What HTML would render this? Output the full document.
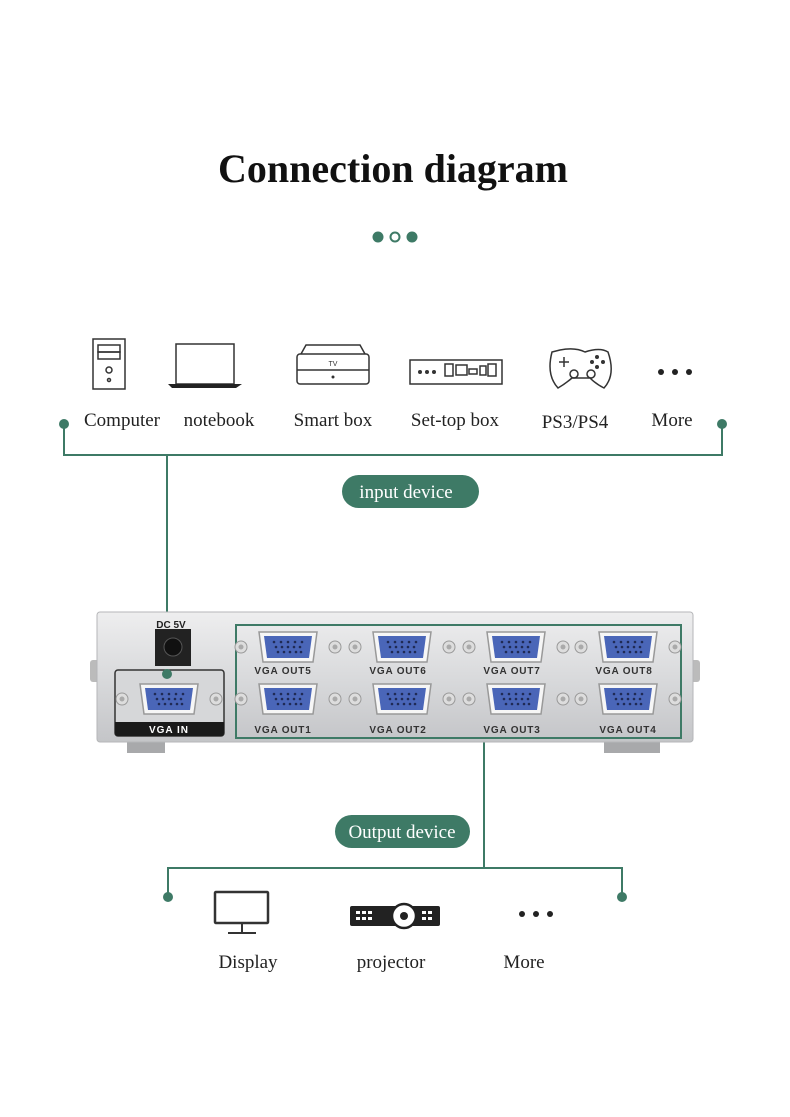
<!DOCTYPE html>
<html><head><style>
html,body{margin:0;padding:0;background:#fff;}
svg{display:block}
.t{font-family:"Liberation Serif",serif;}
.s{font-family:"Liberation Sans",sans-serif;font-weight:bold;}
</style></head><body>
<svg width="790" height="1117" viewBox="0 0 790 1117" xmlns="http://www.w3.org/2000/svg">
<defs>
<linearGradient id="body" x1="0" y1="0" x2="0" y2="1">
<stop offset="0" stop-color="#eeeeef"/><stop offset="0.5" stop-color="#d9dadc"/><stop offset="1" stop-color="#c4c5c8"/>
</linearGradient>
<g id="port">
<circle cx="-47" cy="0" r="6" fill="#ddd" stroke="#999"/><circle cx="-47" cy="0" r="2.5" fill="#aaa"/>
<circle cx="47" cy="0" r="6" fill="#ddd" stroke="#999"/><circle cx="47" cy="0" r="2.5" fill="#aaa"/>
<path d="M-29,-15 H29 L25,15 H-25 Z" fill="#f6f6f6" stroke="#999" stroke-width="1.5"/>
<path d="M-24,-11 H24 L21,11 H-21 Z" fill="#4a66b8"/>
<g fill="#1f2a55"><circle cx="-14" cy="-5" r="1.3"/><circle cx="-7" cy="-5" r="1.3"/><circle cx="0" cy="-5" r="1.3"/><circle cx="7" cy="-5" r="1.3"/><circle cx="14" cy="-5" r="1.3"/>
<circle cx="-12" cy="0" r="1.3"/><circle cx="-6" cy="0" r="1.3"/><circle cx="0" cy="0" r="1.3"/><circle cx="6" cy="0" r="1.3"/><circle cx="12" cy="0" r="1.3"/>
<circle cx="-10" cy="5" r="1.3"/><circle cx="-4" cy="5" r="1.3"/><circle cx="2" cy="5" r="1.3"/><circle cx="8" cy="5" r="1.3"/><circle cx="13" cy="5" r="1.3"/></g>
</g>
</defs>
<text x="393" y="182" text-anchor="middle" class="t" font-size="40" font-weight="bold" fill="#111">Connection diagram</text>
<circle cx="378" cy="237" r="5.5" fill="#3e7a66"/><circle cx="395" cy="237" r="4.5" fill="none" stroke="#3e7a66" stroke-width="2"/><circle cx="412" cy="237" r="5.5" fill="#3e7a66"/>

<g fill="none" stroke="#333" stroke-width="1.5">
<rect x="93" y="339" width="32" height="50"/><rect x="98" y="345" width="22" height="7"/><rect x="98" y="352" width="22" height="7"/><circle cx="109" cy="370" r="3"/><circle cx="109" cy="380" r="1.5"/>
<rect x="176" y="344" width="58" height="40"/>
<rect x="297" y="354" width="72" height="30" rx="3"/><path d="M297,370 H369 M301,354 L306,345 H360 L365,354"/>
<rect x="410" y="360" width="92" height="24"/>
<rect x="445" y="364" width="8" height="12"/><rect x="456" y="365" width="11" height="10"/><rect x="469" y="369" width="8" height="5"/><rect x="480" y="366" width="6" height="9"/><rect x="488" y="364" width="8" height="12"/>
<path d="M560,350 Q575,347 585,352 Q600,347 608,352 Q616,375 604,388 Q596,384 590,378 H572 Q565,384 558,388 Q546,375 552,352 Z"/>
<circle cx="574" cy="374" r="4"/><circle cx="591" cy="374" r="4"/>
<rect x="215" y="892" width="53" height="31" rx="1" stroke-width="2.5"/><path d="M228,933 H256 M242,923 V933" stroke-width="2"/>
</g>
<path d="M168,384 H242 L236,388 H172 Z" fill="#222"/>
<circle cx="333" cy="377" r="1.5" fill="#333"/><text x="333" y="366" text-anchor="middle" font-size="7" font-family="Liberation Sans" fill="#333">TV</text>
<circle cx="420" cy="372" r="2" fill="#333"/><circle cx="427" cy="372" r="2" fill="#333"/><circle cx="434" cy="372" r="2" fill="#333"/>
<path d="M564,357 v10 M559,362 h10" stroke="#333" stroke-width="1.5"/><circle cx="597" cy="357" r="2" fill="#333"/><circle cx="603" cy="362" r="2" fill="#333"/><circle cx="592" cy="362" r="2" fill="#333"/><circle cx="597" cy="367" r="2" fill="#333"/>
<circle cx="661" cy="372" r="3" fill="#222"/><circle cx="675" cy="372" r="3" fill="#222"/><circle cx="689" cy="372" r="3" fill="#222"/>
<g class="t" font-size="19" fill="#222" text-anchor="middle">
<text x="122" y="426">Computer</text><text x="219" y="426">notebook</text><text x="333" y="426">Smart box</text><text x="455" y="426">Set-top box</text><text x="575" y="428">PS3/PS4</text><text x="672" y="426">More</text>
</g>

<g stroke="#3e7a66" stroke-width="2" fill="none">
<path d="M64,424 V455 H722 V424"/><path d="M167,455 V674"/>
<path d="M484,738 V868 M168,897 V868 H622 V897"/>
</g>
<circle cx="64" cy="424" r="5" fill="#3e7a66"/><circle cx="722" cy="424" r="5" fill="#3e7a66"/>
<rect x="342" y="475" width="137" height="33" rx="16.5" fill="#3e7a66"/>
<text x="406" y="498" text-anchor="middle" class="t" font-size="19" fill="#fff">input device</text>

<rect x="90" y="660" width="10" height="22" rx="3" fill="#bbb"/><rect x="690" y="660" width="10" height="22" rx="3" fill="#bbb"/>
<rect x="127" y="740" width="38" height="13" fill="#a8a9ab"/><rect x="604" y="740" width="56" height="13" fill="#a8a9ab"/>
<rect x="97" y="612" width="596" height="130" rx="3" fill="url(#body)" stroke="#b5b6b8"/>
<rect x="155" y="629" width="36" height="37" fill="#222"/><circle cx="173" cy="647" r="9" fill="#111" stroke="#555"/>
<text x="171" y="628" text-anchor="middle" class="s" font-size="10" fill="#222">DC 5V</text>
<rect x="115" y="670" width="109" height="66" rx="3" fill="#d6d7d9" stroke="#333" stroke-width="1.5"/>
<path d="M115,722 H224 V733 Q224,736 221,736 H118 Q115,736 115,733 Z" fill="#1a1a1a"/>
<text x="169" y="733" text-anchor="middle" class="s" font-size="10" fill="#fff" letter-spacing="1">VGA IN</text>
<use href="#port" x="169" y="699"/>
<rect x="236" y="625" width="445" height="113" fill="none" stroke="#3e7a66" stroke-width="2"/>
<use href="#port" x="288" y="647"/><use href="#port" x="402" y="647"/><use href="#port" x="516" y="647"/><use href="#port" x="628" y="647"/>
<use href="#port" x="288" y="699"/><use href="#port" x="402" y="699"/><use href="#port" x="516" y="699"/><use href="#port" x="628" y="699"/>
<g class="s" font-size="10" fill="#333" text-anchor="middle" letter-spacing="0.8">
<text x="283" y="674">VGA OUT5</text><text x="398" y="674">VGA OUT6</text><text x="512" y="674">VGA OUT7</text><text x="624" y="674">VGA OUT8</text>
<text x="283" y="733">VGA OUT1</text><text x="398" y="733">VGA OUT2</text><text x="512" y="733">VGA OUT3</text><text x="628" y="733">VGA OUT4</text>
</g>
<circle cx="167" cy="674" r="5" fill="#3e7a66"/>

<rect x="335" y="815" width="135" height="33" rx="16.5" fill="#3e7a66"/>
<text x="402" y="838" text-anchor="middle" class="t" font-size="19" fill="#fff">Output device</text>
<circle cx="168" cy="897" r="5" fill="#3e7a66"/><circle cx="622" cy="897" r="5" fill="#3e7a66"/>

<rect x="350" y="906" width="90" height="20" rx="2" fill="#222"/>
<circle cx="404" cy="916" r="12" fill="#fff" stroke="#222" stroke-width="2.5"/><circle cx="404" cy="916" r="4" fill="#222"/>
<g fill="#fff"><rect x="356" y="911" width="4" height="3"/><rect x="362" y="911" width="4" height="3"/><rect x="368" y="911" width="4" height="3"/><rect x="356" y="917" width="4" height="3"/><rect x="362" y="917" width="4" height="3"/><rect x="368" y="917" width="4" height="3"/>
<rect x="422" y="911" width="4" height="3"/><rect x="428" y="911" width="4" height="3"/><rect x="422" y="917" width="4" height="3"/><rect x="428" y="917" width="4" height="3"/></g>
<circle cx="522" cy="914" r="3" fill="#222"/><circle cx="536" cy="914" r="3" fill="#222"/><circle cx="550" cy="914" r="3" fill="#222"/>
<g class="t" font-size="19" fill="#222" text-anchor="middle">
<text x="248" y="968">Display</text><text x="391" y="968">projector</text><text x="524" y="968">More</text>
</g>
</svg>
</body></html>
